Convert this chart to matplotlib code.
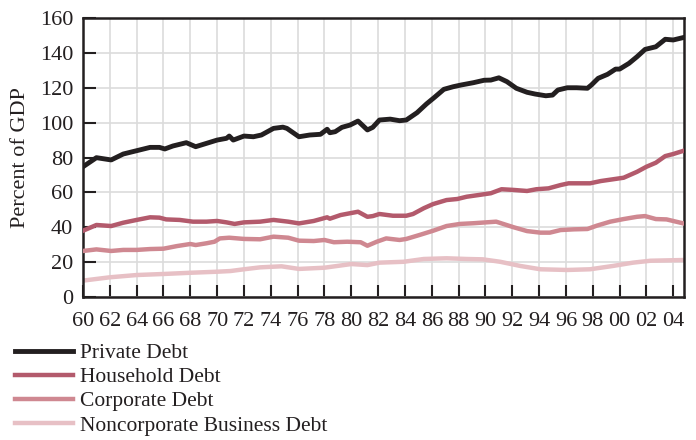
import matplotlib
matplotlib.use('Agg')
import numpy as np
import matplotlib.pyplot as plt

# values (year, percent of GDP)
private_years = [1960.0, 1961.0, 1962.1, 1963.0, 1964.0, 1965.0, 1965.7, 1966.1, 1966.7, 1967.7,
                 1968.4, 1969.2, 1970.0, 1970.7, 1970.9, 1971.2, 1972.0, 1972.7, 1973.3, 1974.2,
                 1974.9, 1975.2, 1976.1, 1976.9, 1977.7, 1978.2, 1978.4, 1978.8, 1979.3, 1979.9,
                 1980.5, 1980.9, 1981.2, 1981.6, 1982.1, 1982.9, 1983.6, 1984.1, 1984.9, 1985.6,
                 1986.2, 1986.9, 1987.6, 1988.2, 1989.1, 1989.9, 1990.4, 1991.0, 1991.6, 1992.3,
                 1993.1, 1993.7, 1994.5, 1995.0, 1995.4, 1996.1, 1996.8, 1997.6, 1997.9, 1998.4,
                 1999.1, 1999.7, 2000.0, 2000.7, 2001.3, 2001.9, 2002.7, 2003.4, 2004.0, 2004.7]
private_debt = [74.7, 79.9, 78.6, 82.0, 83.9, 85.8, 85.8, 84.9, 86.6, 88.5,
                86.2, 88.1, 90.0, 91.0, 92.3, 90.0, 92.3, 91.9, 92.9, 96.7,
                97.4, 96.7, 91.9, 92.9, 93.3, 96.2, 94.2, 94.8, 97.3, 98.6,
                100.9, 98.0, 95.8, 97.3, 101.5, 102.0, 101.1, 101.5, 105.7, 110.7,
                114.5, 119.1, 120.6, 121.6, 122.9, 124.3, 124.4, 125.7, 123.5, 119.7,
                117.4, 116.4, 115.4, 115.8, 118.7, 120.0, 120.0, 119.7, 121.6, 125.4,
                127.7, 130.7, 130.7, 134.0, 137.8, 142.0, 143.5, 147.8, 147.4, 148.7]

household_years = [1960.0, 1961.0, 1962.1, 1963.0, 1964.0, 1965.0, 1965.7, 1966.2, 1967.2, 1968.2,
                   1969.2, 1970.0, 1970.7, 1971.3, 1972.0, 1973.2, 1974.2, 1975.3, 1976.1, 1977.2,
                   1978.2, 1978.4, 1979.2, 1980.5, 1981.2, 1981.6, 1982.1, 1983.1, 1984.1, 1984.6,
                   1985.4, 1986.1, 1987.1, 1987.9, 1988.6, 1989.6, 1990.4, 1991.2, 1992.1, 1993.1,
                   1993.8, 1994.7, 1995.6, 1996.2, 1997.8, 1998.6, 1999.5, 2000.3, 2001.3, 2002.0,
                   2002.7, 2003.4, 2004.0, 2004.7]
household_debt = [38.0, 41.3, 40.7, 42.6, 44.2, 45.7, 45.5, 44.5, 44.2, 43.2,
                  43.2, 43.6, 42.8, 41.9, 42.8, 43.2, 44.2, 43.2, 42.2, 43.6,
                  45.7, 44.9, 47.0, 48.9, 46.0, 46.4, 47.6, 46.6, 46.6, 47.6,
                  50.9, 53.3, 55.6, 56.2, 57.5, 58.6, 59.5, 61.8, 61.4, 60.8,
                  61.8, 62.3, 64.2, 65.2, 65.2, 66.5, 67.5, 68.4, 71.8, 74.7,
                  77.0, 80.8, 82.0, 83.7]

corporate_years = [1960.0, 1961.0, 1962.1, 1963.0, 1964.0, 1965.0, 1966.0, 1967.0, 1968.0, 1968.4,
                   1969.2, 1969.8, 1970.2, 1970.9, 1972.0, 1973.2, 1974.2, 1975.3, 1976.1, 1977.2,
                   1978.0, 1978.7, 1979.7, 1980.7, 1981.2, 1981.9, 1982.6, 1983.6, 1984.1, 1985.1,
                   1986.1, 1987.1, 1988.1, 1989.1, 1990.8, 1992.1, 1993.1, 1994.1, 1994.8, 1995.6,
                   1996.6, 1997.6, 1998.3, 1999.3, 2000.3, 2001.3, 2001.9, 2002.7, 2003.5, 2004.7]
corporate_debt = [26.4, 27.3, 26.4, 27.0, 27.0, 27.5, 27.7, 29.2, 30.4, 29.8,
                  30.8, 31.7, 33.6, 34.0, 33.3, 33.1, 34.6, 34.0, 32.3, 32.1,
                  32.7, 31.4, 31.7, 31.4, 29.4, 31.7, 33.6, 32.7, 33.3, 35.6,
                  38.0, 40.7, 41.9, 42.3, 43.2, 40.0, 37.8, 36.9, 36.9, 38.4,
                  38.8, 39.0, 40.9, 43.2, 44.7, 46.0, 46.4, 44.7, 44.5, 42.3]

noncorp_years = [1960.0, 1962.0, 1964.0, 1966.0, 1968.0, 1970.0, 1971.0, 1972.0, 1973.2, 1974.8,
                 1976.1, 1978.0, 1980.0, 1981.2, 1982.1, 1983.9, 1985.4, 1987.1, 1988.6, 1989.8,
                 1991.1, 1992.6, 1994.1, 1996.1, 1997.8, 1999.5, 2001.0, 2002.3, 2004.7]
noncorp_debt = [9.4, 11.3, 12.6, 13.2, 13.9, 14.5, 14.9, 15.9, 17.0, 17.6,
                16.1, 16.8, 18.9, 18.3, 19.7, 20.2, 21.8, 22.2, 21.8, 21.6,
                20.2, 17.8, 15.9, 15.5, 15.9, 17.8, 19.7, 20.8, 21.2]

xticks = np.arange(1960, 2005, 2)
xlabels = ["%02d" % (y % 100) for y in xticks]

plt.rcParams['font.family'] = ['Liberation Serif', 'DejaVu Serif']
fs = 16

fig = plt.figure(figsize=(6.96, 4.4), dpi=100)
ax = fig.add_axes([83/696., 1-297/440., 601/696., 279/440.])

ax.plot(private_years, private_debt, color="#231f20", linewidth=3.5, label="Private Debt", zorder=5)
ax.plot(household_years, household_debt, color="#b35a6c", linewidth=3.2, label="Household Debt", zorder=4)
ax.plot(corporate_years, corporate_debt, color="#cf8891", linewidth=3.2, label="Corporate Debt", zorder=3)
ax.plot(noncorp_years, noncorp_debt, color="#e7c0c5", linewidth=3.2, label="Noncorporate Business Debt", zorder=2)

# set up axis
ax.set_xlim(1960, 2004.8)
ax.set_ylim(0, 160)
ax.set_xticks(xticks)
ax.set_xticklabels(xlabels)
ax.set_yticks(np.arange(0, 161, 20))
ax.grid(True, color="#dcdcdc", linewidth=1.2, zorder=0)
ax.set_axisbelow(True)
ax.tick_params(axis="both", direction="in", length=9, width=1.5, color="#231f20",
               labelsize=fs, labelcolor="#231f20", pad=7)
ax.tick_params(axis="x", pad=11)
for s in ax.spines.values():
    s.set_linewidth(1.8)
    s.set_color("#231f20")
ax.set_ylabel("Percent of GDP", size=fs, color="#231f20", labelpad=7)

# legend under the plot
fig.legend(loc="upper left", bbox_to_anchor=(15/696., 1-343/440.), frameon=False,
           fontsize=15.5, handlelength=2.7, handletextpad=0.3, labelspacing=0.19,
           borderpad=0, borderaxespad=0, labelcolor="#231f20")

plt.savefig("out.png", dpi=100)
plt.close()
